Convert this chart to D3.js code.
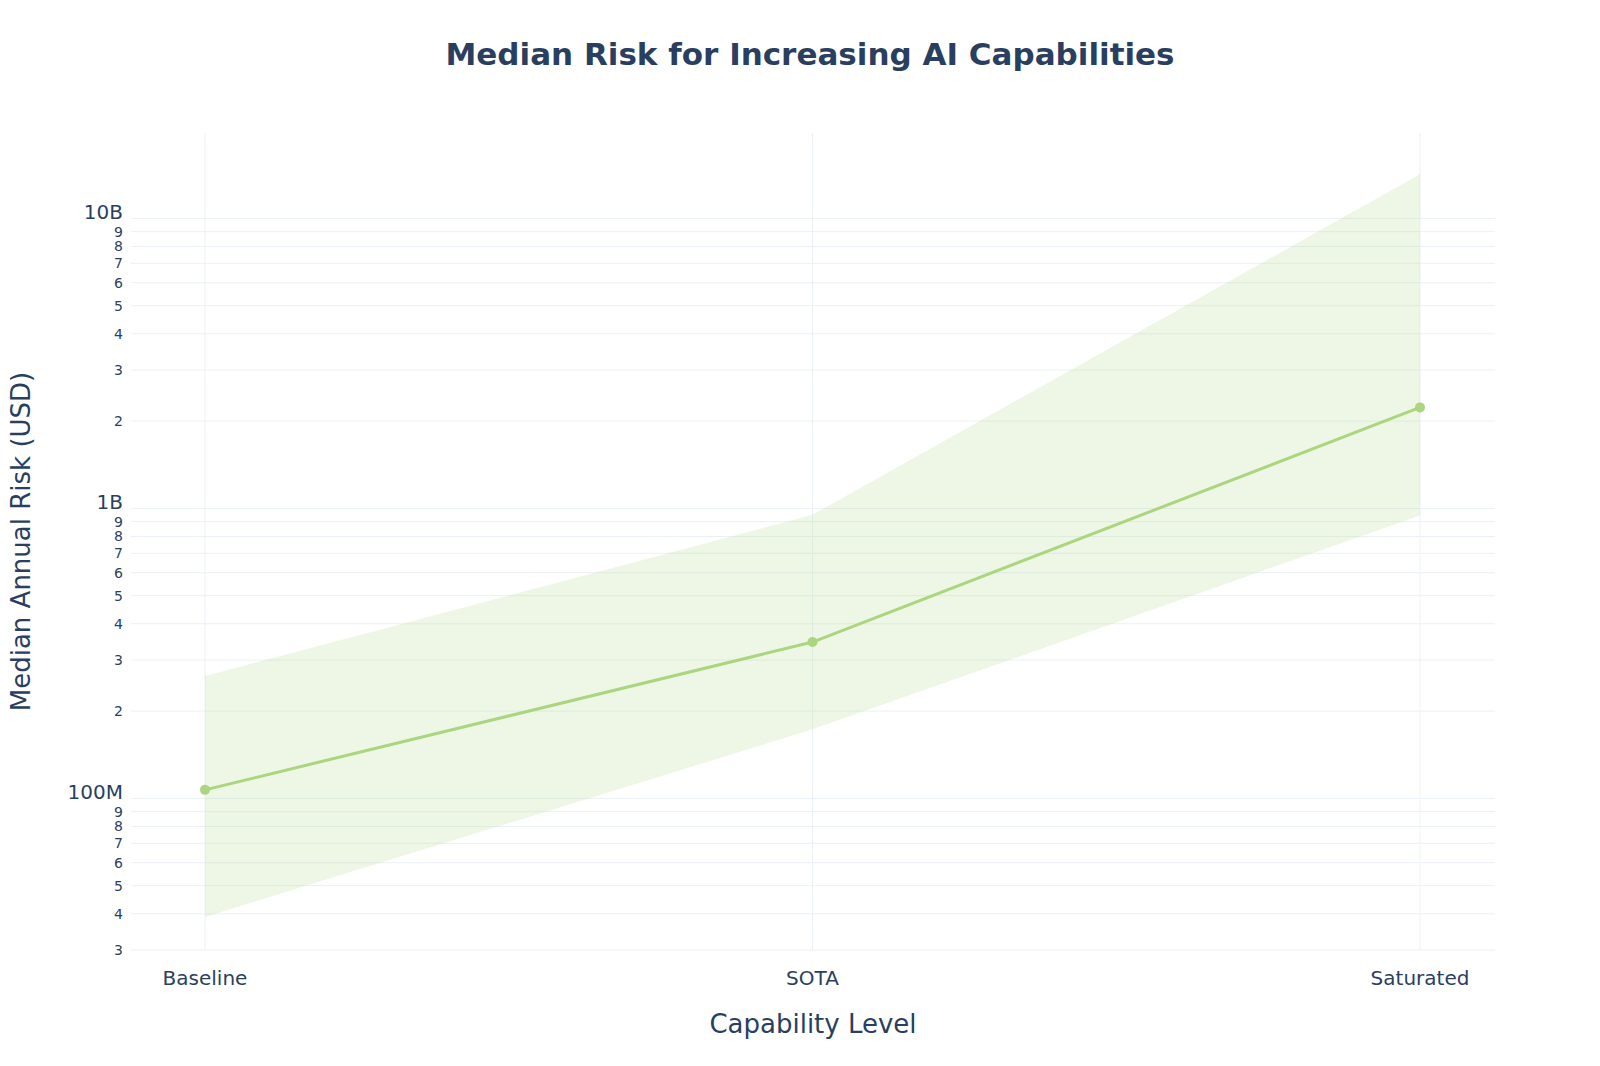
<!DOCTYPE html>
<html><head><meta charset="utf-8">
<script src="https://cdn.jsdelivr.net/npm/d3@7"></script>
<style>body{margin:0;background:#fff;font-family:"DejaVu Sans",Verdana,sans-serif;}</style>
</head><body><div id="chart"></div>
<script>
const categories = ["Baseline", "SOTA", "Saturated"];
const medianRisk = [1.07e8, 3.46e8, 2.23e9];
const upperRisk = [2.64e8, 9.5e8, 1.42e10];
const lowerRisk = [3.9e7, 1.73e8, 9.45e8];
const majorTicks = [1e8, 1e9, 1e10];
const majorLabels = ["100M", "1B", "10B"];

const W = 1600, H = 1066;
const margin = { left: 131, right: 105, top: 133, bottom: 116 };
const width = W - margin.left - margin.right, height = H - margin.top - margin.bottom;
const line = "#abd57f", txt = "#2a3f5f";

const svg = d3.select("#chart").append("svg").attr("width", W).attr("height", H);
const g = svg.append("g").attr("transform", `translate(${margin.left},${margin.top})`);

const x = d3.scalePoint().domain(categories).range([74, 1289]);
const y = d3.scaleLog().domain([3e7, 1.97e10]).range([height, 0]);

const ticks = [];
for (let e = 7; e <= 10; e++) for (let m = 1; m <= 9; m++) {
  const v = m * Math.pow(10, e);
  if (v >= 3e7 && v <= 1.97e10) ticks.push(v);
}
g.append("g").selectAll("line").data(ticks).join("line")
  .attr("x1", 0).attr("x2", width).attr("y1", d => y(d)).attr("y2", d => y(d))
  .attr("stroke", "#ebf0f8").attr("stroke-width", 1);
g.append("g").selectAll("line").data(categories).join("line")
  .attr("x1", d => x(d)).attr("x2", d => x(d)).attr("y1", 0).attr("y2", height)
  .attr("stroke", "#ebf0f8");

const area = d3.area().x((d, i) => x(categories[i])).y0((d, i) => y(lowerRisk[i])).y1(d => y(d));
g.append("path").datum(upperRisk).attr("d", area).attr("fill", line).attr("fill-opacity", 0.2);

const ln = d3.line().x((d, i) => x(categories[i])).y(d => y(d));
g.append("path").datum(medianRisk).attr("d", ln).attr("fill", "none").attr("stroke", line).attr("stroke-width", 3);
g.selectAll("circle").data(medianRisk).join("circle")
  .attr("cx", (d, i) => x(categories[i])).attr("cy", d => y(d)).attr("r", 5).attr("fill", line);

g.append("g").selectAll("text").data(ticks).join("text")
  .attr("x", -8).attr("y", d => y(d))
  .attr("text-anchor", "end").attr("fill", txt)
  .each(function (d) {
    const k = majorTicks.findIndex(t => Math.abs(t - d) / d < 1e-6);
    const s = d3.select(this);
    if (k >= 0) s.text(majorLabels[k]).attr("font-size", 20).attr("dy", "0.05em");
    else s.text(Math.round(d / Math.pow(10, Math.floor(Math.log10(d) + 1e-9)))).attr("font-size", 14).attr("dy", "0.35em");
  });

g.append("g").selectAll("text").data(categories).join("text")
  .attr("x", d => x(d)).attr("y", height + 35).attr("text-anchor", "middle")
  .attr("font-size", 20).attr("fill", txt).text(d => d);

svg.append("text").attr("x", margin.left + width / 2).attr("y", 1033).attr("text-anchor", "middle")
  .attr("font-size", 26).attr("fill", txt).text("Capability Level");
svg.append("text").attr("transform", `translate(30,${margin.top + height / 2}) rotate(-90)`)
  .attr("text-anchor", "middle").attr("font-size", 26).attr("fill", txt).text("Median Annual Risk (USD)");
svg.append("text").attr("x", W / 2 + 10).attr("y", 65).attr("text-anchor", "middle")
  .attr("font-size", 31).attr("font-weight", "bold").attr("fill", txt).text("Median Risk for Increasing AI Capabilities");
</script></body></html>
